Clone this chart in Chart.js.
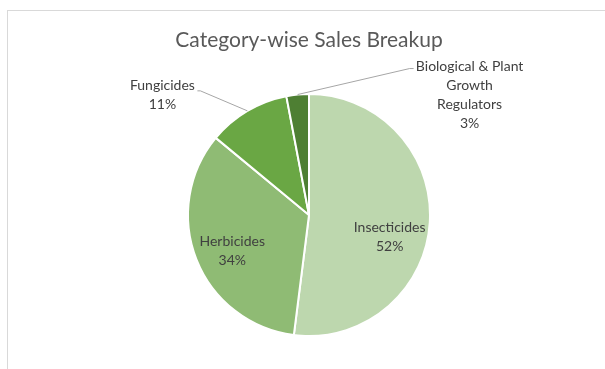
<!DOCTYPE html>
<html>
<head>
<meta charset="utf-8">
<script src="https://cdn.jsdelivr.net/npm/chart.js@4"></script>
<style>
    body { margin: 0; background: #fff; }
    #frame { position: absolute; left: 7px; top: 10px; width: 700px; height: 500px;
             border-top: 1px solid #d9d9d9; border-left: 1px solid #d9d9d9; }
    #salesChart { position: absolute; left: 0; top: 0; }
</style>
</head>
<body>
<div id="frame"></div>
<canvas id="salesChart" width="605" height="369"></canvas>
<script>
const categories = ['Insecticides', 'Herbicides', 'Fungicides', 'Biological & Plant Growth Regulators'];
const labelLines = [['Insecticides'], ['Herbicides'], ['Fungicides'], ['Biological & Plant', 'Growth', 'Regulators']];
const shares = [52, 34, 11, 3];
const colors = ['#bdd7ae', '#8fbb74', '#6aa744', '#4e7f33'];

// where each data label goes: inside the slice, or outside with a leader line
const placement = [
    { inside: true, angle: 15, dist: 0.69 },
    { inside: true, angle: 155, dist: 0.70 },
    { inside: false, elbow: [-47, -20], tail: -3, text: [-38, 4.5] },
    { inside: false, elbow: [112, -26], tail: 4, text: [60, 26] }
];

const pieLabels = {
    id: 'pieLabels',
    afterDatasetsDraw(chart) {
        const ctx = chart.ctx;
        const meta = chart.getDatasetMeta(0);
        const lineH = 19;
        ctx.save();
        ctx.font = '14px Lato';
        ctx.fillStyle = '#404040';
        ctx.textAlign = 'center';
        ctx.textBaseline = 'middle';
        meta.data.forEach((arc, i) => {
            const p = arc.getProps(['x', 'y', 'startAngle', 'endAngle', 'outerRadius'], true);
            const lines = labelLines[i].concat([shares[i] + '%']);
            const pl = placement[i];
            let cx, cy;
            if (pl.inside) {
                const a = pl.angle * Math.PI / 180;
                cx = p.x + Math.cos(a) * p.outerRadius * pl.dist;
                cy = p.y + Math.sin(a) * p.outerRadius * pl.dist;
            } else {
                const mid = (p.startAngle + p.endAngle) / 2;
                const ex = p.x + Math.cos(mid) * p.outerRadius;
                const ey = p.y + Math.sin(mid) * p.outerRadius;
                const bx = ex + pl.elbow[0];
                const by = ey + pl.elbow[1];
                ctx.strokeStyle = '#a6a6a6';
                ctx.lineWidth = 1;
                ctx.beginPath();
                ctx.moveTo(ex, ey);
                ctx.lineTo(bx, by);
                ctx.lineTo(bx + pl.tail, by);
                ctx.stroke();
                cx = bx + pl.text[0];
                cy = by + pl.text[1];
            }
            const top = cy - (lines.length - 1) * lineH / 2;
            lines.forEach((t, k) => ctx.fillText(t, cx, top + k * lineH));
        });
        ctx.restore();
    }
};

new Chart(document.getElementById('salesChart'), {
    type: 'pie',
    data: {
        labels: categories,
        datasets: [{
            data: shares,
            backgroundColor: colors,
            borderColor: '#ffffff',
            borderWidth: 2,
            hoverOffset: 0,
            offset: 0
        }]
    },
    options: {
        responsive: false,
        animation: false,
        radius: 121,
        layout: { padding: { left: 13, right: 0, top: 0, bottom: 33 } },
        plugins: {
            legend: { display: false },
            tooltip: { enabled: false },
            title: {
                display: true,
                text: 'Category-wise Sales Breakup',
                color: '#595959',
                font: { family: 'Lato', size: 21, weight: 'normal' },
                padding: { top: 28, bottom: 40.8 }
            }
        }
    },
    plugins: [pieLabels]
});
</script>
</body>
</html>
